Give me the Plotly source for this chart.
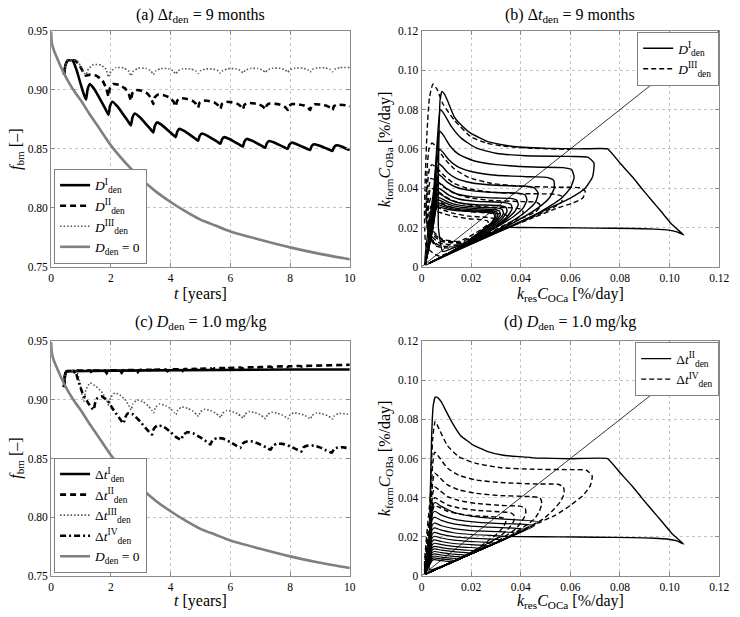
import plotly.graph_objects as go

# ---------------- time series data (panels a, c) ----------------
GRAY_T = [0, 0.02, 0.05, 0.1, 0.2, 0.3, 0.43, 0.6, 0.8, 1.0, 1.3, 1.6, 2.0, 2.5, 3.0, 3.5, 4.0, 4.5, 5.0, 5.5, 6.0, 7.0, 8.0, 9.0, 10.0]
GRAY_F = [0.9495, 0.941, 0.937, 0.933, 0.927, 0.921, 0.914, 0.906, 0.898, 0.891, 0.879, 0.868, 0.853, 0.838, 0.825, 0.814, 0.805, 0.797, 0.790, 0.785, 0.780, 0.773, 0.7665, 0.761, 0.7565]

A1_T = [0.43,0.48,0.55,0.65,0.72,0.85,1.0,1.1,1.17, 1.22,1.30,1.47,1.67,1.82,1.92, 1.97,2.05,2.22,2.42,2.57,2.67,
        2.72,2.80,2.97,3.17,3.32,3.42, 3.47,3.55,3.72,3.92,4.07,4.17, 4.22,4.30,4.47,4.67,4.82,4.92,
        4.97,5.05,5.22,5.42,5.57,5.67, 5.72,5.80,5.97,6.17,6.32,6.42, 6.47,6.55,6.72,6.92,7.07,7.17,
        7.22,7.30,7.47,7.67,7.82,7.92, 7.97,8.05,8.22,8.42,8.57,8.67, 8.72,8.80,8.97,9.17,9.32,9.42,
        9.47,9.55,9.72,9.92,10.0]
A1_F = [0.913,0.921,0.925,0.9252,0.925,0.917,0.904,0.896,0.892, 0.9005,0.905,0.8998,0.8907,0.8837,0.879,
        0.8862,0.890,0.886,0.879,0.8736,0.870, 0.8765,0.880,0.8768,0.8712,0.8669,0.864,
        0.8695,0.8725,0.870,0.8656,0.8623,0.860, 0.8645,0.867,0.865,0.8615,0.8588,0.857,
        0.8609,0.863,0.8613,0.8583,0.856,0.8545, 0.8581,0.860,0.8584,0.8556,0.8534,0.852,
        0.8562,0.8585,0.857,0.8544,0.8524,0.851, 0.8547,0.8567,0.8554,0.853,0.8512,0.850,
        0.8534,0.8553,0.854,0.8518,0.8501,0.849, 0.8523,0.854,0.8529,0.8509,0.8493,0.8483,
        0.8514,0.853,0.8521,0.8497,0.849]

A2_T = [0.43,0.48,0.55,0.80,0.95,1.10,1.17, 1.22,1.32,1.52,1.72,1.85,1.92, 1.97,2.07,2.27,2.47,2.60,2.67,
        2.72,2.82,3.02,3.22,3.35,3.42, 3.47,3.57,3.77,3.97,4.10,4.17, 4.22,4.32,4.52,4.72,4.85,4.92,
        4.97,5.07,5.27,5.47,5.60,5.67, 5.72,5.82,6.02,6.22,6.35,6.42, 6.47,6.57,6.77,6.97,7.10,7.17,
        7.22,7.32,7.52,7.72,7.85,7.92, 7.97,8.07,8.27,8.47,8.60,8.67, 8.72,8.82,9.02,9.22,9.35,9.42,
        9.47,9.57,9.77,9.97,10.0]
A2_F = [0.913,0.921,0.925,0.925,0.921,0.914,0.912, 0.9125,0.913,0.912,0.908,0.901,0.8945,
        0.9019,0.905,0.9043,0.9015,0.8966,0.891, 0.8973,0.900,0.8994,0.897,0.8928,0.888,
        0.8936,0.896,0.8955,0.8935,0.890,0.886, 0.8909,0.893,0.8926,0.891,0.8882,0.885,
        0.8892,0.891,0.8907,0.8893,0.8868,0.884, 0.8882,0.890,0.8897,0.8884,0.8861,0.8835,
        0.8874,0.889,0.8887,0.8876,0.8857,0.8835, 0.887,0.8885,0.8882,0.8871,0.8852,0.883,
        0.8865,0.888,0.8878,0.8868,0.885,0.883, 0.8864,0.8878,0.8876,0.8866,0.8849,0.883,
        0.8862,0.8875,0.8873,0.8866,0.886]

A3_T = [0.43,0.48,0.55,0.85,1.0,1.12,1.17, 1.25,1.42,1.67,1.84,1.92, 2.00,2.17,2.42,2.59,2.67,
        2.75,2.92,3.17,3.34,3.42, 3.50,3.67,3.92,4.09,4.17, 4.25,4.42,4.67,4.84,4.92,
        5.00,5.17,5.42,5.59,5.67, 5.75,5.92,6.17,6.34,6.42, 6.50,6.67,6.92,7.09,7.17,
        7.25,7.42,7.67,7.84,7.92, 8.00,8.17,8.42,8.59,8.67, 8.75,8.92,9.17,9.34,9.42,
        9.50,9.67,10.0]
A3_F = [0.913,0.921,0.925,0.925,0.920,0.914,0.913, 0.918,0.9215,0.9212,0.9175,0.911,
        0.9158,0.919,0.9188,0.9162,0.912, 0.916,0.9185,0.9183,0.9163,0.913,
        0.9161,0.9182,0.918,0.9163,0.9135, 0.9163,0.918,0.9178,0.9162,0.914,
        0.9163,0.9178,0.9178,0.9163,0.9142, 0.9164,0.918,0.918,0.9165,0.9145,
        0.9167,0.9182,0.9182,0.9167,0.9148, 0.917,0.9184,0.9184,0.917,0.915,
        0.9172,0.9186,0.9186,0.9172,0.9152, 0.9174,0.9188,0.9188,0.9174,0.9155,
        0.9176,0.919,0.919]

C1_T = [0.43,0.46,0.50,0.60,2.0,4.0,6.0,8.0,10.0]
C1_F = [0.911,0.921,0.924,0.9245,0.925,0.9255,0.926,0.926,0.926]

C2_T = [0.43,0.47,0.52,0.75,0.82,0.88, 1.31,1.37,1.43, 1.80,1.86,1.92, 2.30,2.36,2.42, 2.84,2.90,2.96,
        3.34,3.40,3.46, 3.84,3.90,3.96, 4.34,4.40,4.46, 4.84,4.90,4.96, 5.34,5.40,5.46, 5.84,5.90,5.96,
        6.34,6.40,6.46, 6.84,6.90,6.96, 7.34,7.40,7.46, 7.84,7.90,7.96, 8.34,8.40,8.46, 8.84,8.90,8.96,
        9.34,9.40,9.46, 9.84,9.90,9.96, 10.0]
C2_F = [0.911,0.922,0.9245,0.9248,0.9222,0.925, 0.925,0.9225,0.925, 0.925,0.9228,0.9252,
        0.9253,0.9232,0.9254, 0.9255,0.9237,0.9256, 0.9257,0.924,0.9258, 0.926,0.9245,0.926,
        0.9262,0.9248,0.9263, 0.9265,0.9252,0.9266, 0.927,0.9258,0.927, 0.9273,0.9262,0.9273,
        0.9277,0.9267,0.9277, 0.928,0.9272,0.928, 0.9284,0.9277,0.9284, 0.9287,0.928,0.9287,
        0.929,0.9284,0.929, 0.9293,0.9288,0.9293, 0.9296,0.9291,0.9296, 0.9299,0.9295,0.9299, 0.930]

C3_T = [0.43,0.47,0.52,0.85,0.95,1.03,1.10, 1.16,1.30,1.50,1.72,1.86,1.93, 1.99,2.13,2.33,2.50,2.62,2.68,
        2.74,2.88,3.08,3.25,3.37,3.43, 3.49,3.63,3.83,4.00,4.12,4.18, 4.24,4.38,4.58,4.75,4.87,4.93,
        4.99,5.13,5.33,5.50,5.62,5.68, 5.74,5.88,6.08,6.25,6.37,6.43, 6.49,6.63,6.83,7.00,7.12,7.18,
        7.24,7.38,7.58,7.75,7.87,7.93, 7.99,8.13,8.33,8.50,8.62,8.68, 8.74,8.88,9.08,9.25,9.37,9.43,
        9.49,9.63,9.83,10.0]
C3_F = [0.911,0.922,0.9245,0.9245,0.916,0.905,0.899, 0.9083,0.9145,0.9117,0.906,0.8993,0.8955,
        0.9018,0.906,0.9038,0.8995,0.8944,0.8915, 0.8966,0.900,0.8984,0.895,0.8912,0.889,
        0.8935,0.8965,0.8952,0.8925,0.8893,0.8875, 0.8914,0.894,0.8928,0.8904,0.8876,0.886,
        0.8896,0.892,0.891,0.8889,0.8864,0.885, 0.8886,0.891,0.890,0.8881,0.8858,0.8845,
        0.8878,0.890,0.8891,0.8873,0.8852,0.884, 0.8873,0.8895,0.8887,0.887,0.8851,0.884,
        0.887,0.889,0.8882,0.8867,0.8848,0.8838, 0.8868,0.8888,0.8881,0.8866,0.8848,0.8838,
        0.8866,0.8885,0.8882,0.8875]

C4_T = [0.43,0.47,0.52,0.80,0.90,1.05,1.25,1.42, 1.47,1.55,1.70,1.90,2.10,2.30,2.42,
        2.48,2.57,2.75,3.00,3.20,3.38, 3.44,3.55,3.75,4.00,4.20,4.35, 4.42,4.55,4.75,5.00,5.20,5.33,
        5.40,5.55,5.75,6.00,6.20,6.33, 6.40,6.55,6.75,7.00,7.20,7.35, 7.42,7.55,7.75,8.00,8.20,8.38,
        8.45,8.60,8.80,9.00,9.20,9.40, 9.47,9.60,9.80,10.0]
C4_F = [0.911,0.922,0.9245,0.9245,0.917,0.906,0.897,0.8915, 0.897,0.9015,0.903,0.899,0.891,0.884,0.880,
        0.885,0.8885,0.8875,0.881,0.875,0.8705, 0.8755,0.878,0.8775,0.8725,0.868,0.866,
        0.870,0.8725,0.8715,0.868,0.8645,0.862, 0.8655,0.8675,0.867,0.864,0.861,0.859,
        0.8625,0.8645,0.8645,0.862,0.8595,0.8575, 0.861,0.8625,0.8625,0.8605,0.858,0.856,
        0.8595,0.861,0.861,0.8595,0.857,0.855, 0.858,0.8595,0.8595,0.8585]

# ---------------- phase-plane data (panels b, d) ----------------
DIAG = [(0.0, 0.0), (0.12, 0.12)]

B_OUTER = [(0.0750,0.0600),(0.0800,0.0528),(0.0850,0.0458),(0.0887,0.0400),(0.0930,0.0335),(0.0967,0.0280),
           (0.1010,0.0215),(0.1057,0.0162),(0.1030,0.0178),(0.0990,0.0188),(0.0940,0.0192),(0.0850,0.0195),
           (0.0700,0.0197),(0.0550,0.0199),(0.0400,0.0200),(0.0340,0.0200),(0.0200,0.0135),(0.0085,0.0078),
           (0.0068,0.0200),(0.0068,0.0450),(0.0071,0.0720),(0.0075,0.0850),(0.0082,0.0893),(0.0092,0.0880),
           (0.0105,0.0845),(0.0132,0.0763),(0.0165,0.0715),(0.0198,0.0680),(0.0264,0.0638),(0.0330,0.0620),
           (0.0396,0.0610),(0.0500,0.0603),(0.0634,0.0600),(0.0750,0.0600)]

B_SOLID = [
    [(0.0015,0.001),(0.0050,0.040),(0.0068,0.072),(0.0076,0.080),(0.0090,0.078),(0.0120,0.0715),(0.0160,0.0655),
     (0.0220,0.0605),(0.0300,0.0578),(0.0420,0.0565),(0.0600,0.0562),(0.0670,0.0558),(0.0695,0.0530),(0.0690,0.0460),
     (0.0660,0.0400),(0.0600,0.0350),(0.0500,0.0290),(0.0350,0.0200),(0.0200,0.0115),(0.0060,0.0035),(0.0015,0.001)],
    [(0.0015,0.001),(0.0048,0.035),(0.0065,0.062),(0.0073,0.069),(0.0088,0.067),(0.0115,0.0615),(0.0150,0.0572),
     (0.0210,0.0540),(0.0300,0.0520),(0.0450,0.0508),(0.0570,0.0505),(0.0605,0.0495),(0.0615,0.0455),(0.0600,0.0400),
     (0.0560,0.0345),(0.0480,0.0280),(0.0330,0.0190),(0.0180,0.0105),(0.0050,0.0030)],
    [(0.0015,0.001),(0.0047,0.032),(0.0063,0.054),(0.0071,0.060),(0.0085,0.0585),(0.0110,0.0545),(0.0145,0.0510),
     (0.0200,0.0485),(0.0300,0.0466),(0.0440,0.0458),(0.0505,0.0455),(0.0533,0.0440),(0.0535,0.0400),(0.0515,0.0350),
     (0.0470,0.0300),(0.0400,0.0245),(0.0280,0.0165),(0.0150,0.0090),(0.0045,0.0027)],
    [(0.0015,0.001),(0.0046,0.028),(0.0062,0.047),(0.0070,0.0525),(0.0083,0.0512),(0.0105,0.0480),(0.0140,0.0450),
     (0.0200,0.0428),(0.0300,0.0415),(0.0420,0.0410),(0.0455,0.0402),(0.0470,0.0375),(0.0460,0.0330),(0.0420,0.0280),
     (0.0350,0.0220),(0.0250,0.0150),(0.0130,0.0080),(0.0040,0.0024)],
    [(0.0015,0.001),(0.0046,0.026),(0.0061,0.042),(0.0069,0.047),(0.0082,0.0458),(0.0105,0.0430),(0.0140,0.0405),
     (0.0200,0.0388),(0.0300,0.0378),(0.0390,0.0375),(0.0418,0.0365),(0.0425,0.0340),(0.0410,0.0300),(0.0370,0.0255),
     (0.0300,0.0200),(0.0200,0.0125),(0.0100,0.0062),(0.0035,0.0021)],
    [(0.0015,0.001),(0.0045,0.024),(0.0060,0.039),(0.0068,0.043),(0.0082,0.0418),(0.0105,0.0395),(0.0140,0.0372),
     (0.0200,0.0357),(0.0300,0.0350),(0.0360,0.0348),(0.0385,0.0338),(0.0390,0.0315),(0.0375,0.0280),(0.0340,0.0240),
     (0.0280,0.0185),(0.0190,0.0120),(0.0090,0.0056),(0.0030,0.0018)],
    [(0.0015,0.001),(0.0045,0.023),(0.0060,0.0365),(0.0067,0.040),(0.0085,0.0388),(0.0110,0.0365),(0.0150,0.0345),
     (0.0220,0.0333),(0.0330,0.0328),(0.0360,0.0318),(0.0365,0.0295),(0.0345,0.0255),(0.0300,0.0210),(0.0220,0.0145),
     (0.0110,0.0068),(0.0030,0.0018)],
    [(0.0015,0.001),(0.0045,0.022),(0.0060,0.0345),(0.0066,0.0375),(0.0085,0.0363),(0.0110,0.0343),(0.0150,0.0326),
     (0.0220,0.0316),(0.0310,0.0312),(0.0340,0.0303),(0.0345,0.0282),(0.0325,0.0245),(0.0280,0.0200),(0.0200,0.0135),
     (0.0100,0.0062),(0.0030,0.0018)],
    [(0.0015,0.001),(0.0045,0.021),(0.0058,0.0330),(0.0065,0.0355),(0.0085,0.0345),(0.0110,0.0328),(0.0150,0.0314),
     (0.0220,0.0304),(0.0300,0.0300),(0.0325,0.0292),(0.0330,0.0272),(0.0310,0.0238),(0.0265,0.0195),(0.0190,0.0128),
     (0.0095,0.0058),(0.0030,0.0018)],
    [(0.0015,0.001),(0.0045,0.020),(0.0058,0.0318),(0.0065,0.0340),(0.0085,0.0332),(0.0110,0.0318),(0.0150,0.0305),
     (0.0220,0.0296),(0.0290,0.0292),(0.0313,0.0285),(0.0318,0.0266),(0.0300,0.0233),(0.0255,0.0190),(0.0180,0.0122),
     (0.0090,0.0055),(0.0030,0.0018)],
    [(0.0015,0.001),(0.0045,0.020),(0.0058,0.0305),(0.0065,0.0325),(0.0085,0.0318),(0.0110,0.0306),(0.0150,0.0296),
     (0.0220,0.0289),(0.0280,0.0285),(0.0303,0.0279),(0.0308,0.0261),(0.0292,0.0229),(0.0248,0.0186),(0.0175,0.0118),
     (0.0085,0.0052),(0.0030,0.0018)],
    [(0.0015,0.001),(0.0045,0.019),(0.0058,0.0297),(0.0065,0.0315),(0.0085,0.0309),(0.0110,0.0299),(0.0150,0.0290),
     (0.0220,0.0284),(0.0273,0.0280),(0.0296,0.0274),(0.0300,0.0257),(0.0285,0.0226),(0.0242,0.0183),(0.0170,0.0115),
     (0.0085,0.0052),(0.0030,0.0018)],
    [(0.0015,0.001),(0.0045,0.019),(0.0058,0.0290),(0.0065,0.0305),(0.0085,0.0300),(0.0110,0.0292),(0.0150,0.0285),
     (0.0220,0.0280),(0.0268,0.0276),(0.0291,0.0270),(0.0295,0.0253),(0.0280,0.0222),(0.0238,0.0180),(0.0165,0.0112),
     (0.0080,0.0049),(0.0030,0.0018)],
]

B_DASHED = [
    [(0.0340,0.0200),(0.0200,0.0125),(0.0070,0.0055),(0.0020,0.0100),(0.0012,0.0250),(0.0015,0.0450),(0.0022,0.0680),
     (0.0032,0.0860),(0.0046,0.0930),(0.0062,0.0905),(0.0086,0.0830),(0.0132,0.0747),(0.0198,0.0663),(0.0260,0.0630),
     (0.0330,0.0614),(0.0450,0.0603),(0.0600,0.0598)],
    [(0.0060,0.0110),(0.0030,0.0160),(0.0018,0.0280),(0.0022,0.0480),(0.0030,0.0600),(0.0042,0.0630),(0.0060,0.0610),
     (0.0090,0.0555),(0.0130,0.0500),(0.0190,0.0455),(0.0280,0.0425),(0.0400,0.0410),(0.0550,0.0405),(0.0640,0.0402),
     (0.0660,0.0385),(0.0650,0.0350),(0.0610,0.0325),(0.0550,0.0300),(0.0450,0.0250),(0.0320,0.0185),(0.0200,0.0130),
     (0.0110,0.0100)],
    [(0.0110,0.0095),(0.0060,0.0105),(0.0030,0.0150),(0.0018,0.0260),(0.0024,0.0420),(0.0032,0.0500),(0.0042,0.0520),
     (0.0060,0.0505),(0.0090,0.0465),(0.0130,0.0425),(0.0190,0.0398),(0.0280,0.0380),(0.0400,0.0372),(0.0530,0.0370),
     (0.0565,0.0360),(0.0565,0.0330),(0.0530,0.0300),(0.0460,0.0260),(0.0360,0.0205),(0.0250,0.0150),(0.0150,0.0105)],
    [(0.0140,0.0100),(0.0070,0.0110),(0.0035,0.0150),(0.0020,0.0250),(0.0026,0.0380),(0.0038,0.0450),(0.0060,0.0438),
     (0.0090,0.0405),(0.0130,0.0375),(0.0190,0.0352),(0.0280,0.0338),(0.0400,0.0332),(0.0465,0.0328),(0.0480,0.0310),
     (0.0460,0.0280),(0.0400,0.0245),(0.0320,0.0195),(0.0230,0.0145),(0.0150,0.0110)],
    [(0.0150,0.0110),(0.0075,0.0120),(0.0038,0.0160),(0.0022,0.0250),(0.0028,0.0350),(0.0037,0.0400),(0.0060,0.0390),
     (0.0090,0.0362),(0.0130,0.0335),(0.0190,0.0315),(0.0280,0.0303),(0.0370,0.0300),(0.0405,0.0292),(0.0410,0.0272),
     (0.0385,0.0245),(0.0330,0.0210),(0.0260,0.0165),(0.0190,0.0125)],
    [(0.0160,0.0120),(0.0080,0.0130),(0.0040,0.0170),(0.0025,0.0250),(0.0030,0.0320),(0.0038,0.0350),(0.0060,0.0342),
     (0.0090,0.0320),(0.0130,0.0298),(0.0190,0.0282),(0.0280,0.0273),(0.0335,0.0268),(0.0350,0.0252),(0.0330,0.0228),
     (0.0280,0.0195),(0.0220,0.0155),(0.0170,0.0125)],
    [(0.0160,0.0125),(0.0085,0.0135),(0.0045,0.0175),(0.0028,0.0240),(0.0033,0.0290),(0.0040,0.0310),(0.0060,0.0305),
     (0.0090,0.0288),(0.0130,0.0272),(0.0190,0.0258),(0.0260,0.0252),(0.0295,0.0245),(0.0300,0.0230),(0.0280,0.0205),
     (0.0240,0.0175),(0.0195,0.0145),(0.0160,0.0128)],
    [(0.0150,0.0128),(0.0085,0.0140),(0.0048,0.0180),(0.0032,0.0235),(0.0036,0.0272),(0.0042,0.0285),(0.0060,0.0282),
     (0.0090,0.0270),(0.0130,0.0257),(0.0190,0.0245),(0.0240,0.0240),(0.0266,0.0234),(0.0270,0.0220),(0.0250,0.0198),
     (0.0215,0.0170),(0.0180,0.0145),(0.0150,0.0130)],
]

D_OUTER = [(0.0750,0.0600),(0.0800,0.0528),(0.0850,0.0458),(0.0887,0.0400),(0.0930,0.0335),(0.0967,0.0280),
           (0.1010,0.0215),(0.1057,0.0162),(0.1030,0.0178),(0.0990,0.0188),(0.0940,0.0192),(0.0850,0.0195),
           (0.0700,0.0197),(0.0550,0.0199),(0.0400,0.0200),(0.0320,0.0200),(0.0200,0.0120),(0.0080,0.0048),
           (0.0032,0.0030),(0.0033,0.0200),(0.0036,0.0450),(0.0041,0.0720),(0.0047,0.0870),(0.0055,0.0915),
           (0.0065,0.0912),(0.0080,0.0890),(0.0100,0.0840),(0.0120,0.0792),(0.0158,0.0717),(0.0211,0.0667),
           (0.0264,0.0637),(0.0330,0.0617),(0.0460,0.0603),(0.0600,0.0599),(0.0750,0.0600)]

D_SOLID = [
    [(0.0015,0.0010),(0.0035,0.0220),(0.0045,0.0355),(0.0055,0.0375),(0.0080,0.0355),(0.0130,0.0325),(0.0200,0.0305),
     (0.0300,0.0292),(0.0400,0.0285),(0.0470,0.0276),(0.0380,0.0213),(0.0250,0.0140),(0.0120,0.0067),(0.0030,0.0017)],
    [(0.0015,0.0010),(0.0033,0.0200),(0.0043,0.0315),(0.0053,0.0330),(0.0080,0.0310),(0.0130,0.0290),(0.0200,0.0277),
     (0.0300,0.0268),(0.0400,0.0264),(0.0455,0.0255),(0.0360,0.0202),(0.0240,0.0134),(0.0120,0.0067),(0.0030,0.0017)],
    [(0.0015,0.0010),(0.0033,0.0185),(0.0043,0.0287),(0.0052,0.0300),(0.0080,0.0283),(0.0130,0.0265),(0.0200,0.0254),
     (0.0300,0.0247),(0.0370,0.0244),(0.0420,0.0236),(0.0330,0.0185),(0.0220,0.0123),(0.0110,0.0062),(0.0030,0.0017)],
    [(0.0015,0.0010),(0.0033,0.0170),(0.0043,0.0258),(0.0052,0.0270),(0.0080,0.0256),(0.0130,0.0241),(0.0200,0.0231),
     (0.0300,0.0226),(0.0340,0.0224),(0.0385,0.0216),(0.0300,0.0168),(0.0200,0.0112),(0.0100,0.0056),(0.0030,0.0017)],
    [(0.0015,0.0010),(0.0033,0.0155),(0.0043,0.0235),(0.0052,0.0245),(0.0080,0.0233),(0.0130,0.0220),(0.0200,0.0211),
     (0.0280,0.0206),(0.0315,0.0204),(0.0352,0.0197),(0.0270,0.0151),(0.0180,0.0101),(0.0090,0.0050),(0.0030,0.0017)],
    [(0.0015,0.0010),(0.0033,0.0140),(0.0043,0.0212),(0.0052,0.0222),(0.0080,0.0212),(0.0130,0.0200),(0.0200,0.0192),
     (0.0260,0.0189),(0.0290,0.0187),(0.0322,0.0180),(0.0250,0.0140),(0.0170,0.0095),(0.0085,0.0048),(0.0030,0.0017)],
    [(0.0015,0.0010),(0.0033,0.0128),(0.0043,0.0193),(0.0052,0.0202),(0.0080,0.0193),(0.0130,0.0182),(0.0200,0.0175),
     (0.0250,0.0172),(0.0295,0.0165),(0.0230,0.0129),(0.0150,0.0084),(0.0075,0.0042),(0.0030,0.0017)],
    [(0.0015,0.0010),(0.0033,0.0115),(0.0043,0.0175),(0.0052,0.0183),(0.0080,0.0175),(0.0130,0.0165),(0.0200,0.0159),
     (0.0235,0.0157),(0.0270,0.0151),(0.0210,0.0118),(0.0140,0.0078),(0.0070,0.0039),(0.0030,0.0017)],
    [(0.0015,0.0010),(0.0033,0.0105),(0.0043,0.0158),(0.0052,0.0166),(0.0080,0.0159),(0.0130,0.0150),(0.0180,0.0145),
     (0.0215,0.0143),(0.0245,0.0137),(0.0190,0.0106),(0.0130,0.0073),(0.0065,0.0036),(0.0030,0.0017)],
    [(0.0015,0.0010),(0.0033,0.0095),(0.0043,0.0143),(0.0052,0.0150),(0.0080,0.0144),(0.0130,0.0136),(0.0180,0.0131),
     (0.0222,0.0125),(0.0170,0.0095),(0.0115,0.0064),(0.0060,0.0034),(0.0030,0.0017)],
    [(0.0015,0.0010),(0.0033,0.0087),(0.0043,0.0131),(0.0052,0.0137),(0.0080,0.0131),(0.0130,0.0123),(0.0170,0.0119),
     (0.0202,0.0114),(0.0150,0.0084),(0.0100,0.0056),(0.0055,0.0031),(0.0030,0.0017)],
    [(0.0015,0.0010),(0.0033,0.0080),(0.0043,0.0118),(0.0052,0.0124),(0.0080,0.0118),(0.0120,0.0111),(0.0155,0.0108),
     (0.0183,0.0103),(0.0140,0.0078),(0.0090,0.0050),(0.0050,0.0028),(0.0030,0.0017)],
    [(0.0015,0.0010),(0.0033,0.0073),(0.0043,0.0107),(0.0052,0.0112),(0.0080,0.0106),(0.0120,0.0100),(0.0140,0.0098),
     (0.0167,0.0093),(0.0125,0.0070),(0.0085,0.0048),(0.0050,0.0028),(0.0030,0.0017)],
    [(0.0015,0.0010),(0.0033,0.0066),(0.0043,0.0096),(0.0052,0.0101),(0.0080,0.0095),(0.0120,0.0090),(0.0151,0.0085),
     (0.0115,0.0064),(0.0080,0.0045),(0.0030,0.0017)],
    [(0.0015,0.0010),(0.0033,0.0060),(0.0043,0.0087),(0.0052,0.0091),(0.0080,0.0086),(0.0110,0.0082),(0.0137,0.0077),
     (0.0100,0.0056),(0.0065,0.0036),(0.0030,0.0017)],
    [(0.0015,0.0010),(0.0033,0.0055),(0.0043,0.0078),(0.0052,0.0082),(0.0080,0.0077),(0.0100,0.0074),(0.0123,0.0070),
     (0.0090,0.0050),(0.0060,0.0033),(0.0030,0.0017)],
]

D_DASHED = [
    [(0.0015,0.0010),(0.0035,0.0400),(0.0045,0.0700),(0.0055,0.0790),(0.0075,0.0740),(0.0105,0.0665),(0.0150,0.0610),
     (0.0220,0.0575),(0.0320,0.0553),(0.0450,0.0545),(0.0600,0.0543),(0.0665,0.0540),(0.0688,0.0510),(0.0680,0.0460),
     (0.0650,0.0410),(0.0600,0.0360),(0.0540,0.0310),(0.0480,0.0275),(0.0350,0.0198),(0.0200,0.0112),(0.0060,0.0034),
     (0.0015,0.0010)],
    [(0.0015,0.0010),(0.0035,0.0330),(0.0045,0.0570),(0.0053,0.0633),(0.0075,0.0600),(0.0105,0.0550),(0.0150,0.0515),
     (0.0220,0.0490),(0.0320,0.0477),(0.0450,0.0470),(0.0550,0.0468),(0.0572,0.0455),(0.0575,0.0420),(0.0560,0.0380),
     (0.0530,0.0335),(0.0490,0.0290),(0.0350,0.0198),(0.0200,0.0112),(0.0060,0.0034),(0.0015,0.0010)],
    [(0.0015,0.0010),(0.0035,0.0280),(0.0045,0.0480),(0.0053,0.0525),(0.0075,0.0500),(0.0105,0.0465),(0.0150,0.0440),
     (0.0220,0.0422),(0.0320,0.0410),(0.0440,0.0405),(0.0478,0.0398),(0.0485,0.0370),(0.0475,0.0330),(0.0455,0.0290),
     (0.0350,0.0198),(0.0200,0.0112),(0.0060,0.0034),(0.0015,0.0010)],
    [(0.0015,0.0010),(0.0035,0.0250),(0.0045,0.0420),(0.0053,0.0455),(0.0075,0.0435),(0.0105,0.0405),(0.0150,0.0385),
     (0.0220,0.0370),(0.0320,0.0360),(0.0395,0.0356),(0.0418,0.0345),(0.0420,0.0315),(0.0405,0.0280),(0.0380,0.0240),
     (0.0300,0.0172),(0.0180,0.0102),(0.0060,0.0034),(0.0015,0.0010)],
    [(0.0015,0.0010),(0.0035,0.0230),(0.0045,0.0370),(0.0053,0.0400),(0.0075,0.0385),(0.0105,0.0362),(0.0150,0.0347),
     (0.0220,0.0335),(0.0320,0.0327),(0.0360,0.0322),(0.0375,0.0305),(0.0370,0.0275),(0.0350,0.0240),(0.0320,0.0205),
     (0.0240,0.0140),(0.0140,0.0080),(0.0050,0.0029),(0.0015,0.0010)],
    [(0.0015,0.0010),(0.0035,0.0210),(0.0045,0.0335),(0.0053,0.0360),(0.0075,0.0348),(0.0105,0.0330),(0.0150,0.0316),
     (0.0220,0.0306),(0.0300,0.0301),(0.0330,0.0295),(0.0340,0.0278),(0.0330,0.0250),(0.0305,0.0215),(0.0270,0.0180),
     (0.0200,0.0118),(0.0120,0.0068),(0.0050,0.0029),(0.0015,0.0010)],
]

TIME_TICKS = [0, 2, 4, 6, 8, 10]
TIME_TICKTEXT = ['0', '2', '4', '6', '8', '10']
FBM_TICKS = [0.75, 0.80, 0.85, 0.90, 0.95]
FBM_TICKTEXT = ['0.75', '0.80', '0.85', '0.90', '0.95']
RATE_TICKS = [0, 0.02, 0.04, 0.06, 0.08, 0.10, 0.12]
RATE_TICKTEXT = ['0', '0.02', '0.04', '0.06', '0.08', '0.10', '0.12']

# ---------------- helpers ----------------
FONT = 'Liberation Serif'


def flatten(loops):
    xs, ys = [], []
    for lp in loops:
        for x, y in lp:
            xs.append(x)
            ys.append(y)
        xs.append(None)
        ys.append(None)
    return xs, ys


fig = go.Figure()

BLACK = 'black'
GRAY = '#7f7f7f'

# panel (a)
fig.add_trace(go.Scatter(x=A1_T, y=A1_F, mode='lines', line=dict(color=BLACK, width=2.6, shape='spline', smoothing=0.5),
                         name='<i>D</i><sup>I</sup><sub>den</sub>', xaxis='x', yaxis='y', legend='legend'))
fig.add_trace(go.Scatter(x=A2_T, y=A2_F, mode='lines', line=dict(color=BLACK, width=2.6, dash='6px,4px', shape='spline', smoothing=0.4),
                         name='<i>D</i><sup>II</sup><sub>den</sub>', xaxis='x', yaxis='y', legend='legend'))
fig.add_trace(go.Scatter(x=A3_T, y=A3_F, mode='lines', line=dict(color='#555555', width=1.6, dash='1.5px,2px', shape='spline', smoothing=0.4),
                         name='<i>D</i><sup>III</sup><sub>den</sub>', xaxis='x', yaxis='y', legend='legend'))
fig.add_trace(go.Scatter(x=GRAY_T, y=GRAY_F, mode='lines', line=dict(color=GRAY, width=2.6, shape='spline', smoothing=0.6),
                         name='<i>D</i><sub>den</sub> = 0', xaxis='x', yaxis='y', legend='legend'))

# panel (c)
fig.add_trace(go.Scatter(x=C1_T, y=C1_F, mode='lines', line=dict(color=BLACK, width=2.6),
                         name='Δ<i>t</i><sup>I</sup><sub>den</sub>', xaxis='x3', yaxis='y3', legend='legend3'))
fig.add_trace(go.Scatter(x=C2_T, y=C2_F, mode='lines', line=dict(color=BLACK, width=2.6, dash='6px,4px'),
                         name='Δ<i>t</i><sup>II</sup><sub>den</sub>', xaxis='x3', yaxis='y3', legend='legend3'))
fig.add_trace(go.Scatter(x=C3_T, y=C3_F, mode='lines', line=dict(color='#555555', width=1.6, dash='1.5px,2px', shape='spline', smoothing=0.4),
                         name='Δ<i>t</i><sup>III</sup><sub>den</sub>', xaxis='x3', yaxis='y3', legend='legend3'))
fig.add_trace(go.Scatter(x=C4_T, y=C4_F, mode='lines', line=dict(color=BLACK, width=2.6, dash='6px,3px,2px,3px', shape='spline', smoothing=0.4),
                         name='Δ<i>t</i><sup>IV</sup><sub>den</sub>', xaxis='x3', yaxis='y3', legend='legend3'))
fig.add_trace(go.Scatter(x=GRAY_T, y=GRAY_F, mode='lines', line=dict(color=GRAY, width=2.6, shape='spline', smoothing=0.6),
                         name='<i>D</i><sub>den</sub> = 0', xaxis='x3', yaxis='y3', legend='legend3'))

# panel (b)
dx, dy = flatten([DIAG])
fig.add_trace(go.Scatter(x=dx, y=dy, mode='lines', line=dict(color=BLACK, width=0.8), showlegend=False, xaxis='x2', yaxis='y2'))
ox, oy = flatten([B_OUTER])
fig.add_trace(go.Scatter(x=ox, y=oy, mode='lines', line=dict(color=BLACK, width=1.4, shape='spline', smoothing=0.3),
                         showlegend=False, xaxis='x2', yaxis='y2'))
sx, sy = flatten(B_SOLID)
fig.add_trace(go.Scatter(x=sx, y=sy, mode='lines', line=dict(color=BLACK, width=1.4, shape='spline', smoothing=0.5),
                         name='<i>D</i><sup>I</sup><sub>den</sub>', xaxis='x2', yaxis='y2', legend='legend2'))
qx, qy = flatten(B_DASHED)
fig.add_trace(go.Scatter(x=qx, y=qy, mode='lines', line=dict(color=BLACK, width=1.4, dash='5px,3px', shape='spline', smoothing=0.5),
                         name='<i>D</i><sup>III</sup><sub>den</sub>', xaxis='x2', yaxis='y2', legend='legend2'))

# panel (d)
fig.add_trace(go.Scatter(x=dx, y=dy, mode='lines', line=dict(color=BLACK, width=0.8), showlegend=False, xaxis='x4', yaxis='y4'))
ox, oy = flatten([D_OUTER])
fig.add_trace(go.Scatter(x=ox, y=oy, mode='lines', line=dict(color=BLACK, width=1.4, shape='spline', smoothing=0.3),
                         name='Δ<i>t</i><sup>II</sup><sub>den</sub>', xaxis='x4', yaxis='y4', legend='legend4'))
sx, sy = flatten(D_SOLID)
fig.add_trace(go.Scatter(x=sx, y=sy, mode='lines', line=dict(color=BLACK, width=1.2, shape='spline', smoothing=0.5),
                         showlegend=False, xaxis='x4', yaxis='y4'))
qx, qy = flatten(D_DASHED)
fig.add_trace(go.Scatter(x=qx, y=qy, mode='lines', line=dict(color=BLACK, width=1.4, dash='5px,3px', shape='spline', smoothing=0.5),
                         name='Δ<i>t</i><sup>IV</sup><sub>den</sub>', xaxis='x4', yaxis='y4', legend='legend4'))

W, H = 740, 617
XA = [49 / W, 353 / W]
XB = [426 / W, 729 / W]
YTOP = [1 - 266 / H, 1 - 25.5 / H]
YBOT = [1 - 581 / H, 1 - 342 / H]


def axis(domain, anchor, rng, tickvals, ticktext, fmt):
    return dict(domain=domain, anchor=anchor, range=rng, tickmode='array', tickvals=tickvals, ticktext=ticktext,
                tickformat=fmt, ticklabeloverflow='allow',
                showline=True, mirror='ticks', linecolor='#8a8a8a', linewidth=1,
                ticks='inside', ticklen=4, tickcolor='#8a8a8a',
                showgrid=True, gridcolor='#c4c4c4', griddash='dot', gridwidth=1, zeroline=False,
                tickfont=dict(family=FONT, size=11.5, color='black'))


legend_style = dict(bgcolor='white', bordercolor='#808080', borderwidth=1,
                    font=dict(family=FONT, size=13.5, color='black'), tracegroupgap=0,
                    itemwidth=30)

fig.update_layout(
    width=W, height=H, margin=dict(l=0, r=0, t=0, b=0),
    paper_bgcolor='white', plot_bgcolor='white',
    xaxis=axis(XA, 'y', [0, 10], TIME_TICKS, TIME_TICKTEXT, 'd'),
    yaxis=axis(YTOP, 'x', [0.75, 0.95], FBM_TICKS, FBM_TICKTEXT, '.2f'),
    xaxis2=axis(XB, 'y2', [0, 0.12], RATE_TICKS, RATE_TICKTEXT, '.2f'),
    yaxis2=axis(YTOP, 'x2', [0, 0.12], RATE_TICKS, RATE_TICKTEXT, '.2f'),
    xaxis3=axis(XA, 'y3', [0, 10], TIME_TICKS, TIME_TICKTEXT, 'd'),
    yaxis3=axis(YBOT, 'x3', [0.75, 0.95], FBM_TICKS, FBM_TICKTEXT, '.2f'),
    xaxis4=axis(XB, 'y4', [0, 0.12], RATE_TICKS, RATE_TICKTEXT, '.2f'),
    yaxis4=axis(YBOT, 'x4', [0, 0.12], RATE_TICKS, RATE_TICKTEXT, '.2f'),
    legend=dict(x=52 / W, y=1 - 263 / H, xanchor='left', yanchor='bottom', **legend_style),
    legend2=dict(x=729 / W, y=1 - 26.5 / H, xanchor='right', yanchor='top', **legend_style),
    legend3=dict(x=52 / W, y=1 - 578 / H, xanchor='left', yanchor='bottom', **legend_style),
    legend4=dict(x=729 / W, y=1 - 343 / H, xanchor='right', yanchor='top', **legend_style),
)

ann = []
tfont = dict(family=FONT, size=16, color='black')
afont = dict(family=FONT, size=16, color='black')
ann.append(dict(text='(a) Δ<i>t</i><sub>den</sub> = 9 months', x=201 / W, y=1 - 10 / H, font=tfont))
ann.append(dict(text='(b) Δ<i>t</i><sub>den</sub> = 9 months', x=577.5 / W, y=1 - 10 / H, font=tfont))
ann.append(dict(text='(c) <i>D</i><sub>den</sub> = 1.0 mg/kg', x=201 / W, y=1 - 323 / H, font=tfont))
ann.append(dict(text='(d) <i>D</i><sub>den</sub> = 1.0 mg/kg', x=577.5 / W, y=1 - 323 / H, font=tfont))
ann.append(dict(text='<i>t</i> [years]', x=201 / W, y=1 - 294 / H, font=afont))
ann.append(dict(text='<i>t</i> [years]', x=201 / W, y=1 - 607 / H, font=afont))
ann.append(dict(text='<i>k</i><sub>res</sub><i>C</i><sub>OCa</sub> [%/day]', x=577.5 / W, y=1 - 294 / H, font=afont))
ann.append(dict(text='<i>k</i><sub>res</sub><i>C</i><sub>OCa</sub> [%/day]', x=577.5 / W, y=1 - 607 / H, font=afont))
ann.append(dict(text='<i>f</i><sub>bm</sub> [–]', x=13 / W, y=1 - 146 / H, font=afont, textangle=-90))
ann.append(dict(text='<i>f</i><sub>bm</sub> [–]', x=13 / W, y=1 - 461 / H, font=afont, textangle=-90))
ann.append(dict(text='<i>k</i><sub>form</sub><i>C</i><sub>OBa</sub> [%/day]', x=389 / W, y=1 - 146 / H, font=afont, textangle=-90))
ann.append(dict(text='<i>k</i><sub>form</sub><i>C</i><sub>OBa</sub> [%/day]', x=389 / W, y=1 - 461 / H, font=afont, textangle=-90))
for a in ann:
    a.update(xref='paper', yref='paper', showarrow=False, xanchor='center', yanchor='middle')
fig.update_layout(annotations=ann)

fig.write_html('out.html', config={'displayModeBar': False},
               post_script="document.body.style.margin='0';document.body.style.overflow='hidden';")
